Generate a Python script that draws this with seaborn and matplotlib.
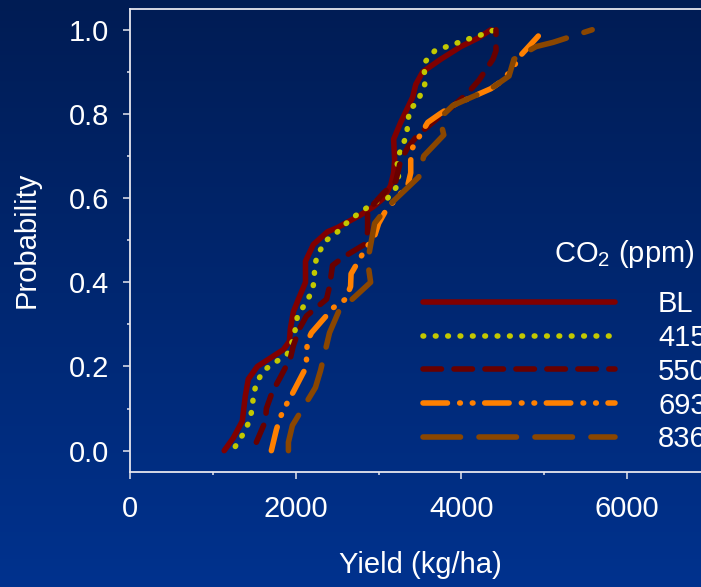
import numpy as np
import pandas as pd
import matplotlib
matplotlib.use("Agg")
import matplotlib.pyplot as plt
from matplotlib.ticker import MultipleLocator, FixedLocator
import seaborn as sns

# Cumulative probability of yield for each CO2 scenario
categories = ["BL", "415", "550", "693", "836"]

bl_yield = [1137, 1246, 1355, 1392, 1428, 1537, 1694, 1851, 1924, 1936, 1972, 2033,
            2118, 2118, 2214, 2384, 2505, 2783, 2940, 3061, 3146, 3182, 3194, 3182,
            3267, 3412, 3449, 3533, 3751, 3993, 4199, 4356]
bl_prob = [0.00, 0.03, 0.07, 0.13, 0.17, 0.20, 0.22, 0.24, 0.26, 0.29, 0.33, 0.36,
           0.40, 0.45, 0.49, 0.52, 0.53, 0.56, 0.58, 0.60, 0.63, 0.66, 0.69, 0.74,
           0.78, 0.84, 0.87, 0.90, 0.93, 0.96, 0.98, 1.00]

c415_yield = [1271, 1367, 1440, 1476, 1488, 1525, 1609, 1755, 1900, 1960, 1997, 2021,
              2118, 2202, 2226, 2226, 2275, 2372, 2505, 2662, 2807, 2952, 3110, 3231,
              3243, 3219, 3279, 3340, 3352, 3376, 3473, 3557, 3557, 3545, 3678, 3824,
              3969, 4114, 4271, 4404]
c415_prob = [0.01, 0.04, 0.07, 0.10, 0.13, 0.16, 0.19, 0.21, 0.23, 0.26, 0.29, 0.32,
             0.35, 0.38, 0.41, 0.44, 0.47, 0.50, 0.52, 0.55, 0.57, 0.59, 0.60, 0.63,
             0.66, 0.69, 0.72, 0.75, 0.78, 0.81, 0.83, 0.87, 0.89, 0.92, 0.95, 0.96,
             0.97, 0.98, 0.99, 1.00]

c550_yield = [1525, 1634, 1646, 1718, 1803, 1936, 1972, 2045, 2130, 2372, 2408, 2444,
              2577, 2831, 2868, 2868, 3050, 3207, 3243, 3267, 3352, 3473, 3715, 3848,
              4078, 4211, 4380, 4417, 4417]
c550_prob = [0.02, 0.07, 0.10, 0.14, 0.17, 0.22, 0.25, 0.29, 0.32, 0.36, 0.39, 0.44,
             0.46, 0.49, 0.52, 0.57, 0.61, 0.64, 0.67, 0.69, 0.72, 0.75, 0.79, 0.81,
             0.85, 0.88, 0.93, 0.95, 1.00]

c693_yield = [1706, 1767, 1815, 1888, 1972, 2130, 2130, 2142, 2190, 2456, 2602, 2662,
              2668, 2844, 2952, 3001, 3086, 3352, 3388, 3388, 3412, 3594, 3739, 3896,
              4356, 4501, 4622, 4719, 4997]
c693_prob = [0.00, 0.05, 0.08, 0.11, 0.14, 0.20, 0.23, 0.26, 0.28, 0.34, 0.36, 0.39,
             0.42, 0.48, 0.51, 0.54, 0.57, 0.63, 0.66, 0.69, 0.72, 0.78, 0.80, 0.82,
             0.86, 0.88, 0.91, 0.94, 1.00]

c836_yield = [1912, 1912, 1960, 2238, 2299, 2408, 2517, 2904, 2868, 2952, 3110, 3485,
              3545, 3787, 3739, 3896, 4356, 4574, 4634, 4901, 5106, 5578]
c836_prob = [0.00, 0.02, 0.06, 0.15, 0.19, 0.28, 0.33, 0.40, 0.45, 0.54, 0.58, 0.65,
             0.70, 0.75, 0.79, 0.82, 0.86, 0.89, 0.93, 0.96, 0.97, 1.00]

x_ticks = [0, 2000, 4000, 6000]
y_ticks = [0.0, 0.2, 0.4, 0.6, 0.8, 1.0]

series = {
    "BL": (bl_yield, bl_prob),
    "415": (c415_yield, c415_prob),
    "550": (c550_yield, c550_prob),
    "693": (c693_yield, c693_prob),
    "836": (c836_yield, c836_prob),
}
df = pd.concat(
    [pd.DataFrame({"Yield": y, "Probability": p, "CO2": k}) for k, (y, p) in series.items()],
    ignore_index=True,
)

palette = {"BL": "#800000", "415": "#c2c800", "550": "#680000",
           "693": "#ff8000", "836": "#8a4600"}
# dash patterns in points (unscaled); short "on" segments with round caps give dots
dashes = {"BL": "",
          "415": (0.5, 8.4),
          "550": (13.3, 9.0),
          "693": (17.6, 8.8, 0.5, 8.6, 0.5, 8.4),
          "836": (27.0, 13.3)}

sns.set_theme(style="white")
plt.rcParams["font.family"] = ["Liberation Sans", "DejaVu Sans"]
plt.rcParams["lines.scale_dashes"] = False
plt.rcParams["mathtext.fontset"] = "custom"
plt.rcParams["mathtext.rm"] = "Liberation Sans"

FS = 21
W, H = 701, 587
fig = plt.figure(figsize=(W / 100, H / 100), dpi=100)

# vertical navy gradient behind everything
bg = fig.add_axes([0, 0, 1, 1], zorder=-10)
top_c = np.array([0, 28, 84]) / 255
bot_c = np.array([0, 50, 142]) / 255
t = np.linspace(0, 1, 256)[:, None]
grad = (top_c[None, :] * (1 - t) + bot_c[None, :] * t)[:, None, :]
bg.imshow(grad, aspect="auto", extent=[0, 1, 0, 1])
bg.set_axis_off()

ax = fig.add_axes([130 / W, (H - 471.7) / H, 580 / W, (471.7 - 8.7) / H])
ax.set_facecolor("none")

sns.lineplot(data=df, x="Yield", y="Probability", hue="CO2", style="CO2",
             palette=palette, dashes=dashes, hue_order=categories, style_order=categories,
             sort=False, estimator=None, legend=False, ax=ax,
             linewidth=4.0, solid_capstyle="round", dash_capstyle="round",
             solid_joinstyle="round", dash_joinstyle="round")

ax.set_xlim(0, 7000)
ax.set_ylim(-0.05, 1.05)
ax.xaxis.set_major_locator(FixedLocator(x_ticks))
ax.xaxis.set_minor_locator(MultipleLocator(1000))
ax.yaxis.set_major_locator(FixedLocator(y_ticks))
ax.yaxis.set_minor_locator(MultipleLocator(0.1))
ax.set_xticklabels([str(v) for v in x_ticks])
ax.set_yticklabels([f"{v:.1f}" for v in y_ticks])

spine_c = "#e6e6ee"
for s in ["left", "bottom", "top", "right"]:
    ax.spines[s].set_visible(True)
    ax.spines[s].set_color(spine_c)
    ax.spines[s].set_linewidth(1.3)

ax.tick_params(axis="both", which="both", direction="out", colors=spine_c,
               labelcolor="white", labelsize=FS, bottom=True, left=True,
               top=False, right=False)
ax.tick_params(axis="both", which="major", length=5, width=1.1)
ax.tick_params(axis="both", which="minor", length=2.5, width=1.1)
ax.tick_params(axis="x", which="major", pad=12)
ax.tick_params(axis="y", which="major", pad=10)

ax.set_xlabel("Yield (kg/ha)", color="white", fontsize=FS, labelpad=20)
ax.set_ylabel("Probability", color="white", fontsize=FS, labelpad=20)

handles = ax.get_lines()[:len(categories)]
leg = ax.legend(handles, categories, frameon=False,
                loc="upper left", bbox_to_anchor=(423 / W, (H - 290) / H),
                bbox_transform=fig.transFigure, fontsize=FS,
                handlelength=192 / (FS * 100 / 72), handletextpad=43 / (FS * 100 / 72),
                labelspacing=0.2, borderpad=0, borderaxespad=0)
for txt in leg.get_texts():
    txt.set_color("white")

# legend heading
fig.text(695 / W, (H - 262) / H, "CO$_2$ (ppm)", color="white", fontsize=FS,
         ha="right", va="baseline")

fig.savefig("out.png", dpi=100)
